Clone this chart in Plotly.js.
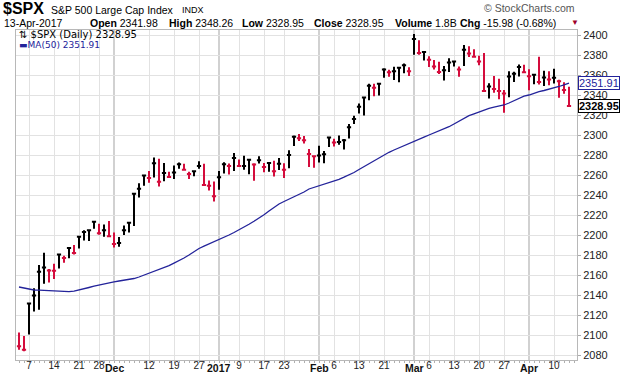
<!DOCTYPE html>
<html><head><meta charset="utf-8">
<script src="https://cdn.plot.ly/plotly-3.0.1.min.js"></script>
<style>html,body{margin:0;padding:0;background:#fff}#chart{width:620px;height:376px}</style>
</head><body><div id="chart"></div>
<script>
const dates = ['2016-11-03','2016-11-04','2016-11-07','2016-11-08','2016-11-09','2016-11-10','2016-11-11','2016-11-14','2016-11-15','2016-11-16','2016-11-17','2016-11-18','2016-11-21','2016-11-22','2016-11-23','2016-11-25','2016-11-28','2016-11-29','2016-11-30','2016-12-01','2016-12-02','2016-12-05','2016-12-06','2016-12-07','2016-12-08','2016-12-09','2016-12-12','2016-12-13','2016-12-14','2016-12-15','2016-12-16','2016-12-19','2016-12-20','2016-12-21','2016-12-22','2016-12-23','2016-12-27','2016-12-28','2016-12-29','2016-12-30','2017-01-03','2017-01-04','2017-01-05','2017-01-06','2017-01-09','2017-01-10','2017-01-11','2017-01-12','2017-01-13','2017-01-17','2017-01-18','2017-01-19','2017-01-20','2017-01-23','2017-01-24','2017-01-25','2017-01-26','2017-01-27','2017-01-30','2017-01-31','2017-02-01','2017-02-02','2017-02-03','2017-02-06','2017-02-07','2017-02-08','2017-02-09','2017-02-10','2017-02-13','2017-02-14','2017-02-15','2017-02-16','2017-02-17','2017-02-21','2017-02-22','2017-02-23','2017-02-24','2017-02-27','2017-02-28','2017-03-01','2017-03-02','2017-03-03','2017-03-06','2017-03-07','2017-03-08','2017-03-09','2017-03-10','2017-03-13','2017-03-14','2017-03-15','2017-03-16','2017-03-17','2017-03-20','2017-03-21','2017-03-22','2017-03-23','2017-03-24','2017-03-27','2017-03-28','2017-03-29','2017-03-30','2017-03-31','2017-04-03','2017-04-04','2017-04-05','2017-04-06','2017-04-07','2017-04-10','2017-04-11','2017-04-12','2017-04-13'];
const high = [2102.56,2099.07,2132.00,2146.87,2170.10,2182.30,2165.92,2171.36,2180.84,2179.22,2188.06,2189.89,2198.70,2204.80,2204.72,2213.35,2211.14,2210.46,2214.10,2202.60,2197.95,2209.42,2212.50,2241.63,2251.69,2259.80,2264.03,2277.53,2276.20,2272.12,2263.18,2269.52,2272.56,2271.23,2263.18,2263.79,2273.82,2271.31,2254.51,2253.58,2263.88,2272.82,2271.50,2282.10,2275.49,2279.27,2275.32,2271.78,2278.68,2272.08,2272.01,2274.33,2276.96,2271.78,2284.63,2299.55,2300.99,2299.02,2286.01,2279.09,2289.14,2283.97,2298.31,2296.18,2299.40,2295.91,2311.08,2319.23,2331.58,2337.58,2351.31,2351.16,2351.16,2366.71,2365.13,2368.26,2367.34,2371.54,2367.79,2400.98,2394.75,2383.89,2378.80,2375.12,2373.23,2369.08,2376.86,2374.42,2368.55,2390.01,2388.71,2385.71,2379.27,2381.93,2351.81,2358.92,2356.22,2344.90,2363.78,2363.36,2370.42,2370.35,2365.87,2360.53,2378.36,2364.16,2363.76,2366.37,2355.22,2352.72,2348.26];
const low = [2085.23,2083.79,2100.59,2123.56,2125.35,2151.17,2152.49,2156.08,2166.38,2172.20,2176.65,2180.38,2186.43,2194.51,2194.11,2206.27,2200.36,2198.15,2198.81,2187.44,2188.37,2199.97,2202.52,2208.93,2237.57,2249.23,2252.37,2257.59,2248.44,2253.77,2257.01,2256.08,2266.14,2265.15,2256.08,2258.84,2266.15,2249.11,2244.56,2233.62,2245.13,2261.60,2260.45,2264.06,2268.90,2265.27,2260.83,2254.25,2271.51,2262.81,2263.35,2258.41,2265.01,2257.02,2266.68,2288.88,2294.08,2291.62,2268.04,2267.21,2272.44,2271.65,2287.88,2288.57,2290.16,2285.38,2296.61,2311.10,2321.42,2319.39,2334.81,2338.87,2339.58,2357.28,2358.34,2355.09,2352.87,2361.87,2358.96,2380.13,2380.17,2374.42,2367.98,2365.51,2361.01,2354.54,2363.04,2368.52,2358.18,2368.94,2377.94,2377.64,2369.66,2343.71,2336.45,2342.13,2335.74,2322.25,2337.63,2352.94,2358.58,2362.60,2344.73,2350.72,2350.52,2348.90,2349.76,2351.50,2337.25,2341.18,2328.95];
const close = [2088.66,2085.18,2131.52,2139.56,2163.26,2167.48,2164.45,2164.20,2180.39,2176.94,2187.12,2181.90,2198.18,2202.94,2204.72,2213.35,2201.72,2204.66,2198.81,2191.08,2191.95,2204.71,2212.23,2241.35,2246.19,2259.53,2256.96,2271.72,2253.28,2262.03,2258.07,2262.53,2270.76,2265.18,2260.96,2263.79,2268.88,2249.92,2249.26,2238.83,2257.83,2270.75,2269.00,2276.98,2268.90,2268.90,2275.32,2270.44,2274.64,2267.89,2271.89,2263.69,2271.31,2265.20,2280.07,2298.37,2296.68,2294.69,2280.90,2278.87,2279.55,2280.85,2297.42,2292.56,2293.08,2294.67,2307.87,2316.10,2328.25,2337.58,2349.25,2347.22,2351.16,2365.38,2362.82,2363.81,2367.34,2369.75,2363.64,2395.96,2381.92,2383.12,2375.31,2368.39,2362.98,2364.87,2372.60,2373.47,2365.45,2385.26,2381.38,2378.25,2373.47,2344.02,2348.45,2345.96,2343.98,2341.59,2358.57,2361.13,2368.06,2362.72,2358.84,2360.16,2352.95,2357.49,2355.54,2357.16,2353.78,2344.93,2328.95];
const ma50 = [2148.0,2147.0,2146.0,2145.0,2144.8,2144.5,2144.0,2143.8,2143.5,2143.3,2143.3,2143.8,2144.8,2146.3,2147.5,2148.8,2150.0,2151.2,2152.3,2153.2,2154.0,2154.8,2155.5,2156.5,2158.0,2159.8,2161.7,2163.5,2165.2,2167.0,2169.3,2171.8,2174.2,2177.0,2180.0,2183.5,2186.5,2188.8,2191.0,2193.0,2195.0,2197.5,2200.0,2202.5,2205.0,2207.8,2210.8,2213.8,2216.7,2220.3,2224.0,2227.5,2231.0,2233.5,2235.8,2238.0,2240.0,2243.0,2246.0,2247.5,2249.0,2250.5,2252.0,2253.8,2255.7,2257.8,2260.0,2262.5,2265.5,2268.5,2271.5,2274.5,2277.5,2280.0,2282.7,2285.0,2287.0,2289.2,2291.5,2293.5,2295.7,2297.8,2300.0,2302.0,2304.0,2306.2,2308.3,2311.0,2313.8,2316.6,2319.3,2321.2,2323.0,2325.0,2326.7,2327.8,2329.0,2330.0,2332.0,2334.5,2337.0,2338.8,2340.0,2341.8,2343.3,2344.5,2345.6,2346.8,2348.5,2350.2,2351.91];
const prevClose = 2097.94;
const tickDates = ['2016-11-07','2016-11-14','2016-11-21','2016-11-28','2016-12-12','2016-12-19','2016-12-27','2017-01-09','2017-01-17','2017-01-23','2017-02-06','2017-02-13','2017-02-21','2017-03-06','2017-03-13','2017-03-20','2017-03-27','2017-04-10'];
const tickLabels = ['7','14','21','28','12','19','27','9','17','23','6','13','21','6','13','20','27','10'];
const monthDates = ['2016-12-01','2017-01-03','2017-02-01','2017-03-01','2017-04-03'];
const monthLabels = ['Dec','2017','Feb','Mar','Apr'];

const idx = dates.map((d, i) => i);
const upX = [], upH = [], upL = [], upC = [];
const dnX = [], dnH = [], dnL = [], dnC = [];
close.forEach((c, i) => {
  const prev = i === 0 ? prevClose : close[i - 1];
  if (c < prev) { dnX.push(i); dnH.push(high[i]); dnL.push(low[i]); dnC.push(c); }
  else { upX.push(i); upH.push(high[i]); upL.push(low[i]); upC.push(c); }
});
const BLACK = '#000000', RED = '#d40c3c', NAVY = '#23239a';
function barTrace(x, h, l, c, col) {
  return { type: 'ohlc', x: x, open: c, high: h, low: l, close: c, tickwidth: 0.42,
    increasing: { line: { color: col, width: 2 } }, decreasing: { line: { color: col, width: 2 } },
    hoverinfo: 'skip', showlegend: false };
}
const traces = [
  { type: 'scatter', mode: 'lines', x: idx, y: ma50, line: { color: NAVY, width: 1.3 }, hoverinfo: 'skip', showlegend: false },
  barTrace(upX, upH, upL, upC, BLACK),
  barTrace(dnX, dnH, dnL, dnC, RED)
];
const W = 620, H = 376, ML = 16, MR = 43, MT = 30, MB = 16;
const pw = W - ML - MR, ph = H - MT - MB;
const px = v => (v - ML) / pw;
const py = v => (H - MB - v) / ph;
const F = 'Arial, "Liberation Sans", sans-serif';
const FD = '"DejaVu Sans", sans-serif';
function ann(text, x, y, size, color, anchor, fam) {
  return { text: text, xref: 'paper', yref: 'paper', x: px(x), y: py(y), xanchor: anchor || 'left', yanchor: 'middle',
    showarrow: false, font: { family: fam || F, size: size, color: color || '#000' } };
}
const lastC = close[close.length - 1], lastMA = ma50[ma50.length - 1];
const annotations = [
  ann('<b>$SPX</b>', 1, 9, 16),
  ann('S&P 500 Large Cap Index', 49, 9.5, 10.5),
  ann('INDX', 180, 10, 9),
  ann('© StockCharts.com', 577, 8, 10.5, '#555', 'right'),
  ann('13-Apr-2017', 2, 23.5, 10.5),
  ann('<b>Open</b> 2341.98', 88, 23.5, 10.5),
  ann('<b>High</b> 2348.26', 167, 23.5, 10.5),
  ann('<b>Low</b> 2328.95', 240, 23.5, 10.5),
  ann('<b>Close</b> 2328.95', 312, 23.5, 10.5),
  ann('<b>Volume</b> 1.8B', 393, 23.5, 10.5),
  ann('<b>Chg</b> -15.98 (-0.68%)', 458, 23.5, 10.5),
  ann('▼', 569, 22, 8, '#a0002a'),
  ann('⇅ $SPX (Daily) 2328.95', 17, 35, 10, '#000', 'left', FD),
  ann('<span style="color:' + NAVY + '">▬</span><span style="color:' + NAVY + '">MA(50) ' + lastMA.toFixed(2) + '</span>', 17, 44.5, 9, NAVY, 'left', FD),
  { text: lastMA.toFixed(2), xref: 'paper', yref: 'y', x: 1, y: lastMA, xanchor: 'left', yanchor: 'middle', xshift: 1,
    showarrow: false, font: { family: F, size: 11, color: NAVY }, bgcolor: '#fff', bordercolor: NAVY, borderwidth: 1, borderpad: 0 },
  { text: '<b>' + lastC.toFixed(2) + '</b>', xref: 'paper', yref: 'y', x: 1, y: lastC, xanchor: 'left', yanchor: 'middle', xshift: 1,
    showarrow: false, font: { family: F, size: 11, color: '#000' }, bgcolor: '#fff', bordercolor: '#000', borderwidth: 1, borderpad: 0 }
];
monthDates.forEach((d, k) => {
  annotations.push({ text: '<b>' + monthLabels[k] + '</b>', xref: 'x', yref: 'paper', x: dates.indexOf(d), y: py(367.5),
    xanchor: 'center', yanchor: 'middle', showarrow: false, font: { family: F, size: 10.5, color: '#111' } });
});
const shapes = monthDates.map(d => ({ type: 'line', xref: 'x', yref: 'paper', x0: dates.indexOf(d), x1: dates.indexOf(d), y0: 0, y1: 1,
  line: { color: '#c2c2c2', width: 1.5 }, layer: 'between' }));
const layout = {
  width: W, height: H, margin: { l: ML, r: MR, t: MT, b: MB }, paper_bgcolor: '#fff', plot_bgcolor: '#fff', showlegend: false,
  xaxis: { type: 'linear', range: [-0.6, 111.6], tickmode: 'array', tickvals: tickDates.map(d => dates.indexOf(d)), ticktext: tickLabels,
    showgrid: true, gridcolor: '#e2e2e2', gridwidth: 1, zeroline: false, showline: true, linecolor: '#b8b8b8', linewidth: 1, mirror: true,
    ticks: 'outside', ticklen: 2, tickcolor: '#aaa', tickfont: { family: F, size: 10, color: '#222' }, ticklabelstandoff: -6, rangeslider: { visible: false },
    minor: { tickmode: 'linear', tick0: 0, dtick: 1, ticks: 'outside', ticklen: 2, tickcolor: '#b0b0b0', showgrid: false }, fixedrange: true },
  yaxis: { side: 'right', range: [2075, 2405], tickmode: 'linear', tick0: 2080, dtick: 20, showgrid: true, gridcolor: '#e2e2e2',
    zeroline: false, showline: true, linecolor: '#b8b8b8', linewidth: 1, mirror: true, ticks: 'outside', ticklen: 3, tickcolor: '#aaa',
    tickfont: { family: F, size: 11, color: '#222' }, fixedrange: true },
  annotations: annotations, shapes: shapes
};
Plotly.newPlot('chart', traces, layout, { displayModeBar: false, staticPlot: true });
</script></body></html>
